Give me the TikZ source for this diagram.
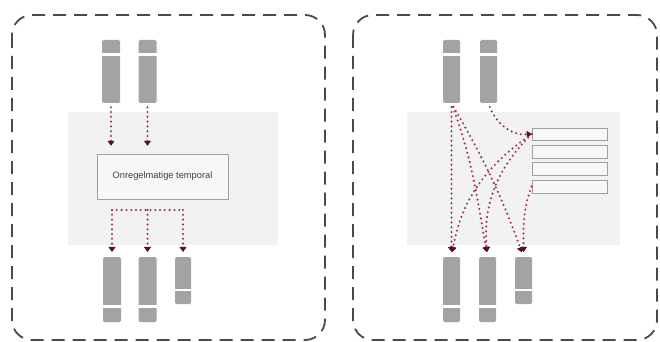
\documentclass[tikz,border=0pt]{standalone}
\usepackage{fontspec}
\setmainfont{Liberation Sans}
\usetikzlibrary{arrows.meta,calc}
\definecolor{barg}{HTML}{A3A3A3}
\definecolor{panelbg}{HTML}{F2F2F2}
\definecolor{arrred}{HTML}{A0304A}
\definecolor{arrtip}{HTML}{5A0F22}
\definecolor{framec}{HTML}{4A4A4A}
\tikzset{
  frame/.style={draw=framec, line width=1.8pt, dash pattern=on 13pt off 8pt, rounded corners=20pt},
  panel/.style={fill=panelbg, draw=none},
  bar/.style={fill=barg, draw=none, rounded corners=1.5pt, inner sep=0pt, minimum width=18pt},
  gapline/.style={draw=white, line width=2.5pt},
  arr/.style={draw=arrred, line width=2.3pt, dash pattern=on 0pt off 4.8pt, line cap=round, -{Triangle[length=5pt,width=7pt,round,color=arrtip,line width=0.5pt]}},
  dl/.style={draw=arrred, line width=2.3pt, dash pattern=on 0pt off 4.8pt, line cap=round},
  box/.style={draw=gray!75, fill=panelbg!60, line width=0.8pt, inner sep=0pt},
}
\begin{document}
\begin{tikzpicture}[x=1pt,y=-1pt]
\useasboundingbox (0,0) rectangle (660,342);
% frames
\draw[frame] (12,15) rectangle (325,340);
\draw[frame] (353,15) rectangle (657,340);
% gray panels
\fill[panel] (68,112) rectangle (278,245);
\fill[panel] (407,112) rectangle (620,245);

% ---------- left panel ----------
\node[bar, minimum height=63pt] (lt1) at (111,71.5) {};
\node[bar, minimum height=63pt] (lt2) at (147.5,71.5) {};
\draw[gapline] (101,54.5) -- (121,54.5);
\draw[gapline] (137,54.5) -- (158,54.5);
\node[bar, minimum height=65pt] (lb1) at (112,289.5) {};
\node[bar, minimum height=65pt] (lb2) at (147.5,289.5) {};
\node[bar, minimum height=47pt, minimum width=16pt] (lb3) at (183,280.5) {};
\draw[gapline] (102,306.5) -- (122,306.5);
\draw[gapline] (137,306.5) -- (158,306.5);
\draw[gapline] (174,290) -- (192,290);
\node[box, minimum width=131pt, minimum height=45pt] (box) at (162.5,176.5)
  {\fontsize{9.3pt}{10pt}\selectfont\color{black!75}Onregelmatige temporal};

\draw[arr, shorten <=4pt, shorten >=8pt] (lt1.south) -- (lt1.south |- box.north);
\draw[arr, shorten <=4pt, shorten >=8pt] (lt2.south) -- (lt2.south |- box.north);
\coordinate (hl) at (lb1.north |- 0,210);
\coordinate (hr) at (lb3.north |- 0,210);
\draw[dl] (hl) -- (hr);
\draw[arr, shorten >=5pt] (hl) -- (lb1.north);
\draw[arr, shorten >=5pt] (lb2.north |- hl) -- (lb2.north);
\draw[arr, shorten >=5pt] (hr) -- (lb3.north);

% ---------- right panel ----------
\node[bar, minimum height=63pt, minimum width=17pt] (rt1) at (451.5,71.5) {};
\node[bar, minimum height=63pt, minimum width=17pt] (rt2) at (488.5,71.5) {};
\draw[gapline] (442,54.5) -- (461,54.5);
\draw[gapline] (479,54.5) -- (498,54.5);
\node[bar, minimum height=65pt, minimum width=17pt] (rb1) at (451.5,289.5) {};
\node[bar, minimum height=65pt, minimum width=17pt] (rb2) at (487.5,289.5) {};
\node[bar, minimum height=47pt, minimum width=17pt] (rb3) at (523.5,280.5) {};
\draw[gapline] (442,306.5) -- (461,306.5);
\draw[gapline] (478,306.5) -- (497,306.5);
\draw[gapline] (514,290) -- (533,290);

\node[box, minimum width=75pt, minimum height=12pt] (r1) at (569.5,134) {};
\node[box, minimum width=75pt, minimum height=13pt] (r2) at (569.5,151.5) {};
\node[box, minimum width=75pt, minimum height=13pt] (r3) at (569.5,168.5) {};
\node[box, minimum width=75pt, minimum height=13pt] (r4) at (569.5,186.5) {};

\draw[arr, shorten <=4pt, shorten >=5pt] (rt1.south) -- (rb1.north);
\draw[arr, shorten <=4pt, shorten >=5pt] (rt1.south) to[out=-70,in=100] (rb2.north);
\draw[arr, shorten <=4pt, shorten >=5pt] (rt1.south) to[out=-60,in=110] (rb3.north);
\draw[arr, shorten <=4pt] (rt2.south) to[out=-70,in=185] (r1.west);
\draw[arr, shorten >=5pt] (r1.west) to[out=215,in=80] (rb1.north);
\draw[arr, shorten >=5pt] (r1.west) to[out=225,in=95] (rb2.north);
\draw[arr, shorten >=5pt] (r4.west) to[out=250,in=90] (rb3.north);
\end{tikzpicture}
\end{document}
